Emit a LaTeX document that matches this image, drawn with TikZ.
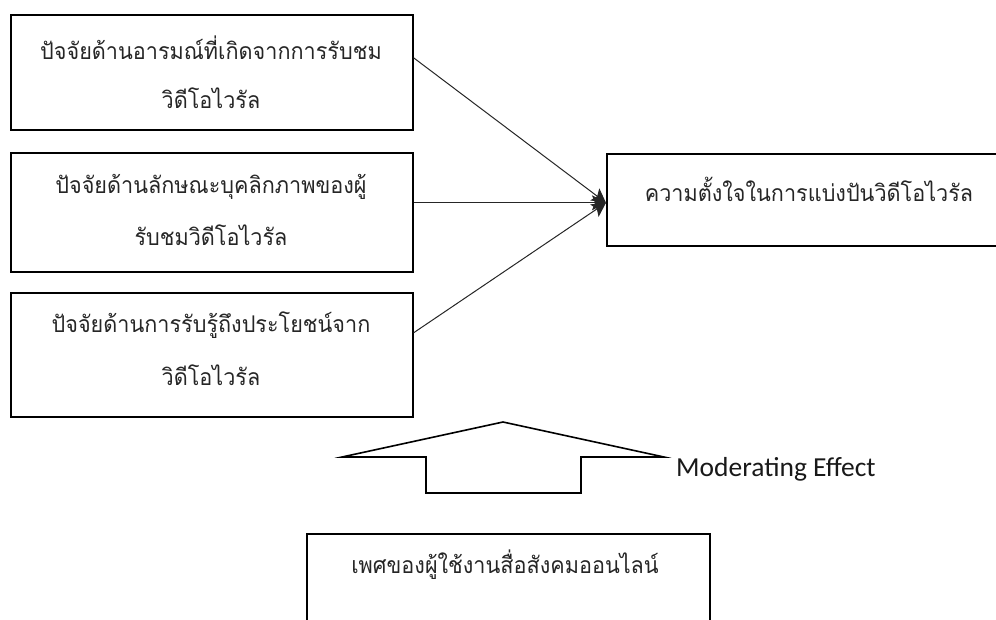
\documentclass[tikz,border=0pt]{standalone}
\usepackage{fontspec}
\newfontfamily\thaifont[Script=Thai,FakeStretch=0.94]{Loma}
\newfontfamily\calfont{Carlito}
\usetikzlibrary{arrows.meta}
\begin{document}
\begin{tikzpicture}[x=1pt,y=-1pt,
  boxstyle/.style={draw=black, line width=1.6pt, inner sep=0pt, anchor=north west},
  thtext/.style={font=\thaifont\fontsize{23}{27}\selectfont, text=black!85, inner sep=0pt},
  conn/.style={draw=black!85, line width=1pt, -{Stealth[length=14pt,width=15pt,inset=3pt]}}
]
\useasboundingbox (0,0) rectangle (996,619);

% input boxes
\node[boxstyle, minimum width=402pt, minimum height=115pt] (b1) at (10,14) {};
\node[boxstyle, minimum width=402pt, minimum height=119pt] (b2) at (10,152) {};
\node[boxstyle, minimum width=402pt, minimum height=124pt] (b3) at (10,292) {};
\node[boxstyle, minimum width=392pt, minimum height=92pt] (t) at (606,153) {};
\node[boxstyle, minimum width=403pt, minimum height=100pt] (g) at (306,533) {};

% texts
\node[thtext] (b1a) at (211,48) {ปัจจัยด้านอารมณ์ที่เกิดจากการรับชม};
\node[thtext] (b1b) at (211,98) {วิดีโอไวรัล};
\node[thtext] (b2a) at (211,187) {ปัจจัยด้านลักษณะบุคลิกภาพของผู้};
\node[thtext] (b2b) at (211,235) {รับชมวิดีโอไวรัล};
\node[thtext] (b3a) at (211,325) {ปัจจัยด้านการรับรู้ถึงประโยชน์จาก};
\node[thtext] (b3b) at (211,375) {วิดีโอไวรัล};
\node[thtext] (ta) at (809,189) {ความตั้งใจในการแบ่งปันวิดีโอไวรัล};
\node[thtext] (ga) at (505,565) {เพศของผู้ใช้งานสื่อสังคมออนไลน์};

% connectors
\coordinate (tip) at ([yshift=-3pt]t.west);
\draw[conn] ([yshift=14.5pt]b1.east) -- (tip);
\draw[conn] ([yshift=9.5pt]b2.east) -- (tip);
\draw[conn] ([yshift=22pt]b3.east) -- (tip);

% block arrow
\draw[line width=1.6pt, line join=miter] (342,457) -- (503,422) -- (664,457) -- (581,457) -- (581,493) -- (426,493) -- (426,457) -- cycle;
\node[font=\calfont\fontsize{27.5}{31}\selectfont, text=black!90, anchor=west, inner sep=0pt] (me) at (676,469) {Moderating Effect};
\end{tikzpicture}
\end{document}
